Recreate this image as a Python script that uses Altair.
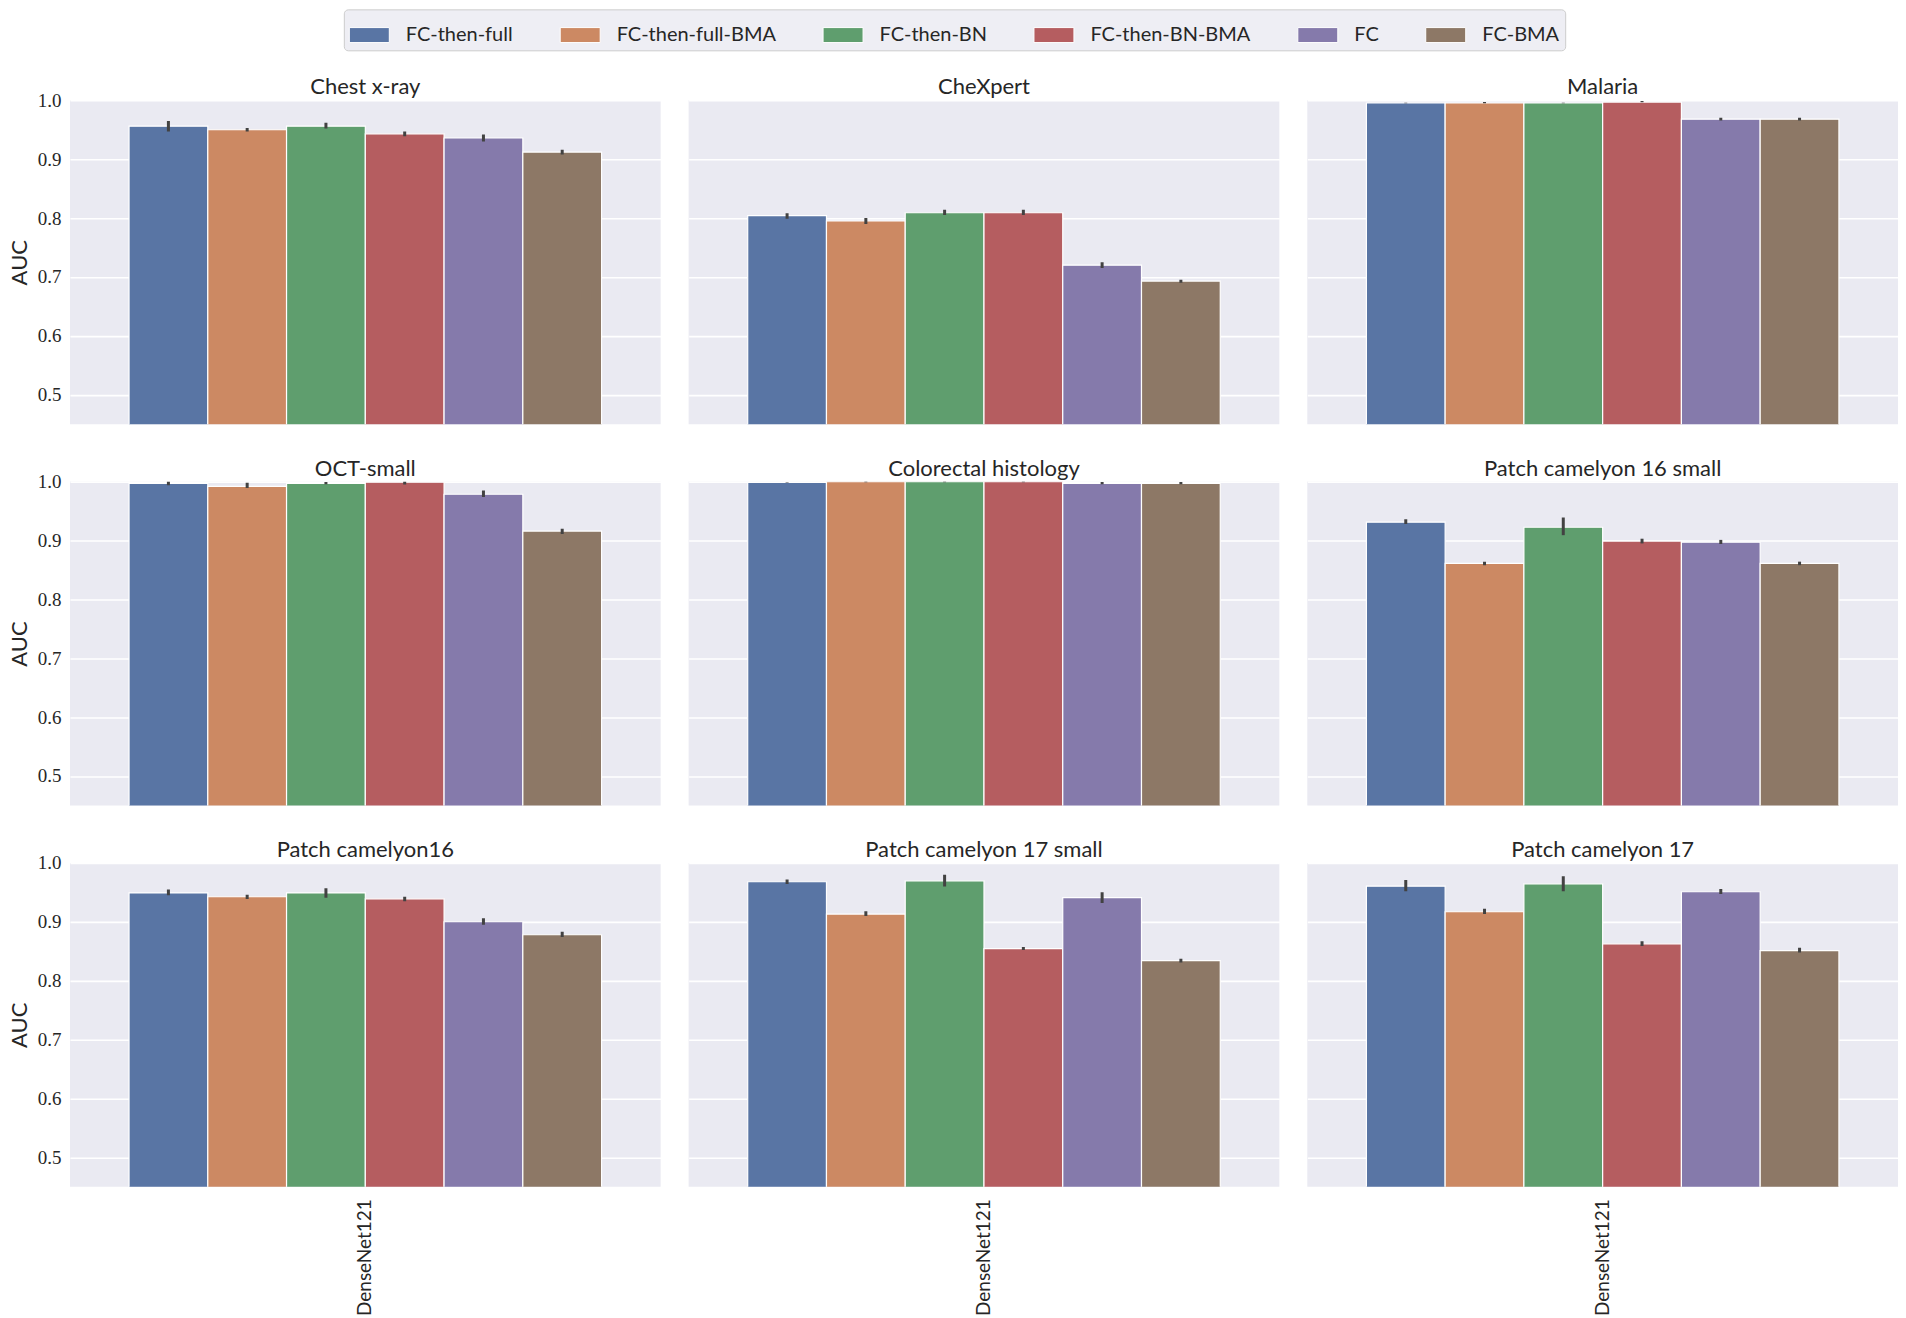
import altair as alt
import pandas as pd

datasets = ["Chest x-ray", "CheXpert", "Malaria",
            "OCT-small", "Colorectal histology", "Patch camelyon 16 small",
            "Patch camelyon16", "Patch camelyon 17 small", "Patch camelyon 17"]
methods = ["FC-then-full", "FC-then-full-BMA", "FC-then-BN", "FC-then-BN-BMA", "FC", "FC-BMA"]
model_name = "DenseNet121"
colors = ["#5975a4", "#cc8963", "#5f9e6e", "#b55d60", "#857aab", "#8d7866"]
y_ticks = [0.5, 0.6, 0.7, 0.8, 0.9, 1.0]

# mean AUC per dataset (order of methods)
auc_chest = [0.956, 0.950, 0.956, 0.943, 0.936, 0.912]
auc_chexpert = [0.804, 0.795, 0.809, 0.809, 0.720, 0.693]
auc_malaria = [0.9954, 0.9954, 0.9954, 0.9970, 0.968, 0.968]
auc_oct = [0.997, 0.992, 0.997, 0.999, 0.9785, 0.916]
auc_colorectal = [0.9985, 0.9997, 0.9997, 0.9997, 0.997, 0.997]
auc_pc16s = [0.931, 0.861, 0.9225, 0.899, 0.897, 0.861]
auc_pc16 = [0.949, 0.9425, 0.949, 0.939, 0.900, 0.878]
auc_pc17s = [0.968, 0.913, 0.9695, 0.8545, 0.941, 0.834]
auc_pc17 = [0.9605, 0.917, 0.9645, 0.8625, 0.951, 0.851]

# error bar low / high
lo_chest = [0.947, 0.947, 0.952, 0.939, 0.930, 0.908]
hi_chest = [0.965, 0.953, 0.962, 0.947, 0.942, 0.916]
lo_chexpert = [0.799, 0.790, 0.805, 0.805, 0.715, 0.690]
hi_chexpert = [0.808, 0.800, 0.814, 0.814, 0.725, 0.695]
lo_malaria = [0.9951, 0.9948, 0.9951, 0.9965, 0.9655, 0.9655]
hi_malaria = [0.9957, 0.9972, 0.9957, 0.9990, 0.9705, 0.9705]
lo_oct = [0.994, 0.989, 0.9955, 0.995, 0.974, 0.911]
hi_oct = [1.000, 0.998, 0.9995, 1.000, 0.985, 0.920]
lo_colorectal = [0.9982, 0.9990, 0.9990, 0.9990, 0.9955, 0.9955]
hi_colorectal = [0.9988, 1.0000, 1.0000, 1.0000, 0.9995, 0.9995]
lo_pc16s = [0.928, 0.858, 0.909, 0.895, 0.894, 0.858]
hi_pc16s = [0.936, 0.864, 0.939, 0.903, 0.901, 0.864]
lo_pc16 = [0.945, 0.9385, 0.941, 0.935, 0.895, 0.874]
hi_pc16 = [0.955, 0.946, 0.957, 0.9425, 0.906, 0.883]
lo_pc17s = [0.964, 0.910, 0.960, 0.852, 0.932, 0.831]
hi_pc17s = [0.972, 0.918, 0.980, 0.857, 0.950, 0.837]
lo_pc17 = [0.952, 0.913, 0.952, 0.859, 0.947, 0.848]
hi_pc17 = [0.971, 0.922, 0.9775, 0.867, 0.9555, 0.856]

auc_all = [auc_chest, auc_chexpert, auc_malaria, auc_oct, auc_colorectal,
           auc_pc16s, auc_pc16, auc_pc17s, auc_pc17]
lo_all = [lo_chest, lo_chexpert, lo_malaria, lo_oct, lo_colorectal,
          lo_pc16s, lo_pc16, lo_pc17s, lo_pc17]
hi_all = [hi_chest, hi_chexpert, hi_malaria, hi_oct, hi_colorectal,
          hi_pc16s, hi_pc16, hi_pc17s, hi_pc17]

records = []
for d, vals, los, his in zip(datasets, auc_all, lo_all, hi_all):
    for meth, v, l, h in zip(methods, vals, los, his):
        records.append(dict(dataset=d, model=model_name, method=meth, auc=v, lo=l, hi=h))
df = pd.DataFrame(records)

TEXT = "#262626"
legend = alt.Legend(
    title=None, orient="none", legendX=274, legendY=-91,
    direction="horizontal", columns=6,
    symbolType="M-1,-0.375H1V0.375H-1Z", symbolSize=1600,
    symbolStrokeColor="white", symbolStrokeWidth=1, symbolOpacity=1,
    labelFont="Lato", labelFontSize=20, labelColor=TEXT, labelOffset=16,
    columnPadding=44, padding=5, fillColor="#eeeef4", strokeColor="#cccccc",
    cornerRadius=4, labelLimit=0,
)
color = alt.Color("method:N", sort=methods,
                  scale=alt.Scale(domain=methods, range=colors), legend=legend)


def panel(i):
    d = datasets[i]
    r, c = divmod(i, 3)
    sub = df[df.dataset == d]
    if r == 2:
        x_axis = alt.Axis(title=None, labelAngle=-90, labelFont="Lato", labelFontSize=19,
                          labelColor=TEXT, labelPadding=12, ticks=False, domain=False, grid=False)
    else:
        x_axis = None
    x = alt.X("model:N", scale=alt.Scale(paddingInner=0, paddingOuter=0.125), axis=x_axis)
    xo = alt.XOffset("method:N", sort=methods,
                     scale=alt.Scale(domain=methods, paddingInner=0, paddingOuter=0))
    if c == 0:
        y_axis = alt.Axis(values=y_ticks, format=".1f", title="AUC", labels=True,
                          labelFont="Liberation Serif", labelFontSize=19, labelColor=TEXT,
                          labelPadding=9, titleFont="Lato", titleFontSize=22,
                          titleFontWeight="normal", titleColor=TEXT, titlePadding=6,
                          ticks=False, domain=False, grid=True)
        t_offset = -8
    else:
        y_axis = alt.Axis(values=y_ticks, title=None, labels=False, ticks=False,
                          domain=False, grid=True)
        t_offset = 1
    yscale = alt.Scale(domain=[0.45, 1.0], nice=False, zero=False)
    bars = alt.Chart(sub).mark_bar(stroke="white", strokeWidth=1.2, clip=True).encode(
        x=x, xOffset=xo,
        y=alt.Y("auc:Q", scale=yscale, axis=y_axis),
        color=color,
    )
    errs = alt.Chart(sub).mark_rule(color="#424242", strokeWidth=3, clip=True).encode(
        x=x, xOffset=xo,
        y=alt.Y("lo:Q", scale=yscale, axis=y_axis),
        y2="hi:Q",
    )
    return alt.layer(bars, errs).properties(
        width=591, height=324,
        title=alt.TitleParams(d, font="Lato", fontSize=22, fontWeight="normal",
                              color=TEXT, offset=t_offset, frame="group"),
    )


rows = [alt.hconcat(*[panel(3 * r + c) for c in range(3)], spacing=28) for r in range(3)]
chart = alt.vconcat(*rows, spacing=33.5).properties(
    padding={"left": 0, "top": 0, "right": 0, "bottom": 0}
).configure_view(
    fill="#eaeaf2", strokeWidth=0
).configure_axis(
    gridColor="white", gridWidth=1.6
)

chart.save("out.html", embed_options={"renderer": "svg", "actions": False})
